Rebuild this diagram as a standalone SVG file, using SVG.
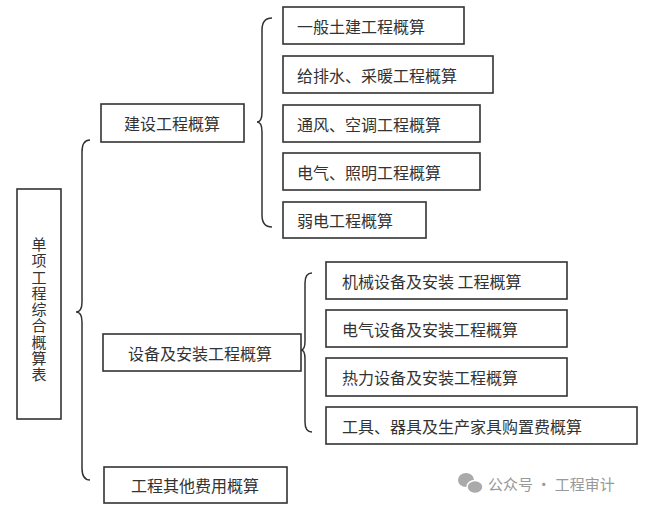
<svg xmlns="http://www.w3.org/2000/svg" width="660" height="511" viewBox="0 0 660 511">
<style>
.box{fill:#fff;stroke:#333;stroke-width:1.6}
.t{font-family:"Noto Sans CJK SC","Noto Sans",sans-serif;font-size:16px;fill:#333;dominant-baseline:central}
.v{font-family:"Noto Sans CJK SC","Noto Sans",sans-serif;font-size:15px;fill:#333;writing-mode:vertical-rl;letter-spacing:1.25px}
.br{fill:none;stroke:#333;stroke-width:1.5}
.wm{font-family:"Noto Sans CJK SC","Noto Sans",sans-serif;font-size:15px;fill:#999;dominant-baseline:central}
</style>
<rect width="660" height="511" fill="#fff"/>
<g id="connectors">
<path class="br" d="M 90 140 Q 82 140 82 152 L 82 302 Q 82 312 76 312 Q 82 312 82 322 L 82 468 Q 82 480 90 480"/>
<path class="br" d="M 272 18 Q 262 18 262 30 L 262 112 Q 262 122 257 122 Q 262 122 262 132 L 262 215 Q 262 227 272 227"/>
<path class="br" d="M 312 273 Q 305 273 305 283 L 305 341 Q 305 350 301 350 Q 305 350 305 359 L 305 422 Q 305 432 312 432"/>
</g>
<g id="root">
<rect class="box" x="17" y="189" width="44" height="230"/>
<text class="v" x="39" y="237">单项工程综合概算表</text>
</g>
<g id="n-jianshe">
<rect class="box" x="101" y="104" width="143" height="38"/>
<text class="t" x="172" y="123" text-anchor="middle">建设工程概算</text>
</g>
<g id="n-shebei">
<rect class="box" x="103" y="334" width="198" height="37"/>
<text class="t" x="200" y="352.5" text-anchor="middle" font-size="17">设备及安装工程概算</text>
</g>
<g id="n-qita">
<rect class="box" x="104" y="467" width="183" height="36"/>
<text class="t" x="195" y="485" text-anchor="middle">工程其他费用概算</text>
</g>
<g id="n-a1">
<rect class="box" x="283" y="7" width="181" height="37"/>
<text class="t" x="297" y="25.5">一般土建工程概算</text>
</g>
<g id="n-a2">
<rect class="box" x="283" y="56" width="210" height="37"/>
<text class="t" x="297" y="74.5">给排水、采暖工程概算</text>
</g>
<g id="n-a3">
<rect class="box" x="283" y="105" width="197" height="37"/>
<text class="t" x="297" y="123.5">通风、空调工程概算</text>
</g>
<g id="n-a4">
<rect class="box" x="283" y="153" width="197" height="37"/>
<text class="t" x="297" y="171.5">电气、照明工程概算</text>
</g>
<g id="n-a5">
<rect class="box" x="283" y="202" width="143" height="36"/>
<text class="t" x="297" y="220">弱电工程概算</text>
</g>
<g id="n-b1">
<rect class="box" x="326" y="262" width="241" height="37"/>
<text class="t" x="342" y="280.5">机械设备及安装 工程概算</text>
</g>
<g id="n-b2">
<rect class="box" x="326" y="310" width="241" height="37"/>
<text class="t" x="342" y="328.5">电气设备及安装工程概算</text>
</g>
<g id="n-b3">
<rect class="box" x="326" y="358" width="241" height="38"/>
<text class="t" x="342" y="377">热力设备及安装工程概算</text>
</g>
<g id="n-b4">
<rect class="box" x="326" y="407" width="311" height="37"/>
<text class="t" x="342" y="425.5">工具、器具及生产家具购置费概算</text>
</g>
<g id="watermark">
<ellipse cx="466" cy="480" rx="8" ry="7" fill="#aaa"/>
<ellipse cx="475" cy="487" rx="8" ry="6.5" fill="#aaa" stroke="#fff" stroke-width="1.5"/>
<text class="wm" x="488" y="483">公众号 · 工程审计</text>
</g>
</svg>
